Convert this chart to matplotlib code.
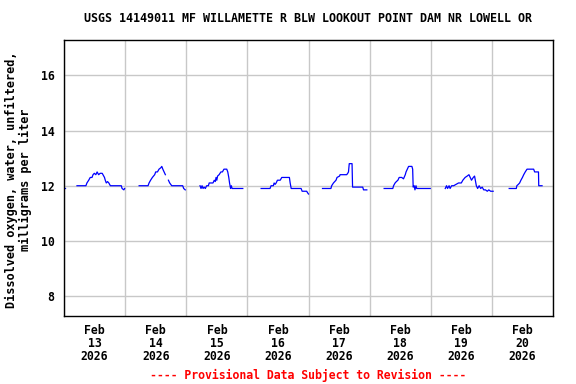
import numpy as np
import pandas as pd
import matplotlib
matplotlib.use("Agg")
import matplotlib.pyplot as plt
import matplotlib.dates as mdates

# dissolved oxygen readings (hour of day, mg/L)
start_day = "2026-02-13"
nan = np.nan

feb13_early_t = [0.0, 0.25]
feb13_early_v = [11.9, 11.9]

feb13_t = [5.1, 8.6, 9.0, 9.7, 10.3, 11.0, 11.4, 11.9, 12.5, 13.0, 13.6, 14.2, 15.0,
           15.3, 15.9, 16.2, 16.6, 17.1, 17.6, 18.2, 22.5, 22.8, 23.5, 23.8]
feb13_v = [12.0, 12.0, 12.1, 12.2, 12.3, 12.3, 12.4, 12.45, 12.4, 12.5, 12.4, 12.45, 12.45,
           12.4, 12.3, 12.2, 12.1, 12.15, 12.1, 12.0, 12.0, 11.9, 11.85, 11.9]

feb14_t = [5.5, 9.0, 9.4, 10.0, 10.7, 11.6, 12.0, 12.7, 13.3, 14.0, 14.4, 14.8, 15.3,
           15.8, 16.3, 17.0, 17.5, 18.3, 22.6, 23.0, 23.6]
feb14_v = [12.0, 12.0, 12.1, 12.2, 12.3, 12.4, 12.5, 12.5, 12.6, 12.65, 12.7, 12.6, 12.5,
           12.4, nan, 12.2, 12.1, 12.0, 12.0, 11.9, 11.85]

feb15_t = [5.4, 5.8, 6.2, 6.6, 7.0, 7.5, 8.0, 8.7, 9.0, 10.5, 11.0, 11.4, 11.7, 12.0,
           12.3, 12.9, 13.6, 14.2, 14.8, 15.9, 16.3, 16.7, 17.0, 17.4, 17.7, 18.0, 22.2]
feb15_v = [12.0, 11.9, 12.0, 11.9, 11.95, 11.9, 12.0, 12.0, 12.1, 12.1, 12.2, 12.15, 12.3, 12.2,
           12.35, 12.4, 12.5, 12.5, 12.6, 12.6, 12.5, 12.3, 12.1, 11.9, 12.0, 11.9, 11.9]

feb16_t = [5.4, 8.9, 9.3, 10.2, 10.5, 10.9, 11.3, 11.8, 12.9, 13.5, 16.5, 16.8, 17.2,
           21.1, 21.5, 23.3, 23.6, 24.0]
feb16_v = [11.9, 11.9, 12.0, 12.0, 12.1, 12.05, 12.1, 12.2, 12.2, 12.3, 12.3, 12.1, 11.9,
           11.9, 11.8, 11.8, 11.75, 11.7]

feb17_t = [5.5, 8.8, 9.1, 9.8, 10.8, 11.2, 12.2, 12.4, 15.0, 15.4, 15.7, 16.0, 17.1,
           17.3, 21.3, 21.6, 22.9]
feb17_v = [11.9, 11.9, 12.0, 12.1, 12.2, 12.3, 12.35, 12.4, 12.4, 12.45, 12.5, 12.8, 12.8,
           11.95, 11.95, 11.85, 11.85]

feb18_t = [5.7, 9.1, 9.4, 10.0, 10.5, 11.1, 11.6, 12.6, 13.3, 14.0, 14.3, 14.8, 15.3,
           16.6, 16.9, 17.1, 17.5, 17.8, 18.2, 18.5, 23.8]
feb18_v = [11.9, 11.9, 12.0, 12.1, 12.15, 12.2, 12.3, 12.3, 12.25, 12.4, 12.5, 12.6, 12.7,
           12.7, 12.6, 11.95, 12.0, 11.85, 12.0, 11.9, 11.9]

feb19_t = [5.7, 6.2, 6.6, 7.2, 7.6, 8.2, 9.0, 10.9, 12.0, 12.6, 13.5, 14.3, 15.0, 15.5,
           16.0, 16.7, 17.2, 17.5, 17.9, 18.4, 19.0, 19.6, 20.2, 20.8, 21.5, 22.2, 22.8,
           23.5, 24.5]
feb19_v = [11.9, 12.0, 11.9, 12.0, 11.9, 12.0, 12.0, 12.1, 12.1, 12.2, 12.3, 12.35, 12.4, 12.3,
           12.2, 12.3, 12.35, 12.2, 12.0, 11.9, 12.0, 11.9, 11.95, 11.85, 11.85, 11.8, 11.85,
           11.8, 11.8]

feb20_t = [6.8, 9.6, 9.8, 10.4, 10.9, 11.4, 12.0, 12.5, 13.1, 13.8, 16.4, 16.8, 18.3,
           18.4, 19.7]
feb20_v = [11.9, 11.9, 12.0, 12.05, 12.1, 12.2, 12.3, 12.4, 12.5, 12.6, 12.6, 12.5, 12.5,
           12.0, 12.0]

segments = [
    (0, feb13_early_t, feb13_early_v),
    (0, feb13_t, feb13_v),
    (1, feb14_t, feb14_v),
    (2, feb15_t, feb15_v),
    (3, feb16_t, feb16_v),
    (4, feb17_t, feb17_v),
    (5, feb18_t, feb18_v),
    (6, feb19_t, feb19_v),
    (7, feb20_t, feb20_v),
]

title = "USGS 14149011 MF WILLAMETTE R BLW LOOKOUT POINT DAM NR LOWELL OR"
ylabel = "Dissolved oxygen, water, unfiltered,\nmilligrams per liter"
footer = "---- Provisional Data Subject to Revision ----"

mono = "DejaVu Sans Mono"

fig = plt.figure(figsize=(5.76, 3.84), dpi=100)
ax = fig.add_axes([64 / 576, 1 - 316 / 384, (553 - 64) / 576, (316 - 40) / 384])

t0 = pd.Timestamp(start_day)
for day, hours, vals in segments:
    times = [t0 + pd.Timedelta(days=day, hours=h) for h in hours]
    ax.plot(times, vals, color="#0000FF", lw=0.9)

ax.set_xlim(t0, t0 + pd.Timedelta(days=8))
ax.set_ylim(7.28, 17.28)
ax.set_yticks([8, 10, 12, 14, 16])

ax.xaxis.set_major_locator(mdates.HourLocator(byhour=12))
ax.xaxis.set_major_formatter(mdates.DateFormatter("%b\n%d\n%Y"))
ax.xaxis.set_minor_locator(mdates.DayLocator())
ax.grid(which="minor", axis="x", color="#C8C8C8", lw=1)
ax.grid(which="major", axis="y", color="#C8C8C8", lw=1)
ax.set_axisbelow(True)
ax.tick_params(which="both", length=0, labelsize=8.3)
ax.tick_params(axis="x", pad=5.5)
ax.tick_params(axis="y", pad=7)
for lab in ax.get_xticklabels() + ax.get_yticklabels():
    lab.set_fontfamily(mono)
    lab.set_fontweight("bold")
    lab.set_linespacing(1.0)
for s in ax.spines.values():
    s.set_linewidth(1)

fig.text(308 / 576, 1 - 19 / 384, title, ha="center", va="center",
         fontfamily=mono, fontweight="bold", fontsize=8.4)
fig.text(18.5 / 576, 1 - 180 / 384, ylabel, ha="center", va="center", rotation=90,
         fontfamily=mono, fontweight="bold", fontsize=8.6, linespacing=1.15)
fig.text(308 / 576, 1 - 375 / 384, footer, ha="center", va="center", color="#FF0000",
         fontfamily=mono, fontweight="bold", fontsize=8.3)

fig.savefig("out.png", dpi=100)
